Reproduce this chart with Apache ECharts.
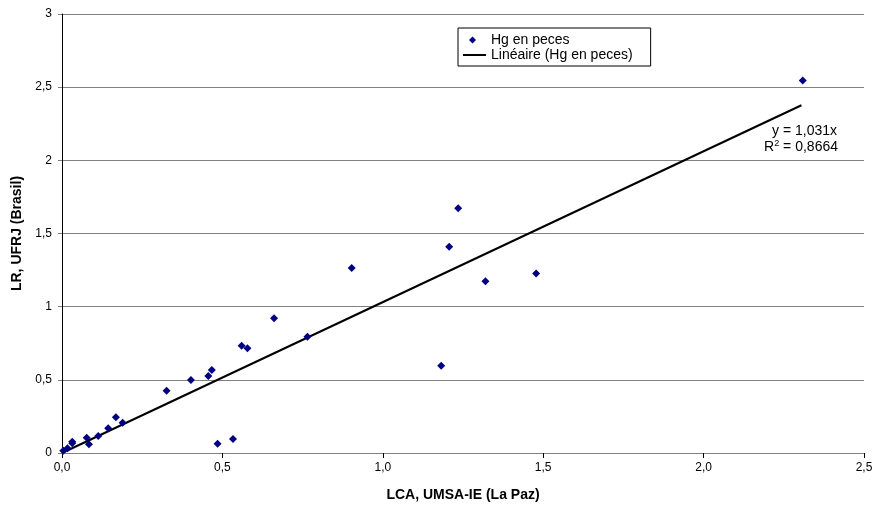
<!DOCTYPE html>
<html>
<head>
<meta charset="utf-8">
<script src="https://cdn.jsdelivr.net/npm/echarts@6/dist/echarts.min.js"></script>
<style>html,body{margin:0;padding:0;background:#fff}#c{width:875px;height:505px}</style>
</head>
<body>
<div id="c"></div>
<script>
var lcaValues = [0.004,0.017,0.032,0.032,0.077,0.084,0.113,0.144,0.168,0.189,0.326,0.402,0.456,0.467,0.485,0.533,0.560,0.578,0.661,0.765,0.903,1.182,1.207,1.235,1.320,1.478,2.309];
var lrValues  = [0.016,0.032,0.077,0.066,0.105,0.059,0.116,0.169,0.244,0.207,0.426,0.499,0.526,0.567,0.064,0.096,0.733,0.716,0.921,0.795,1.265,0.597,1.410,1.673,1.174,1.226,2.545];
var trendSlope = 1.031;
var trendR2 = '0,8664';
var xTicks = ['0,0','0,5','1,0','1,5','2,0','2,5'];
var yTicks = ['0','0,5','1','1,5','2','2,5','3'];
var seriesName = 'Hg en peces';
var trendName = 'Linéaire (Hg en peces)';

var points = lcaValues.map(function(x,i){return [x, lrValues[i]];});
var xMaxData = Math.max.apply(null, lcaValues) - 0.004;
var trendData = [[0,0],[xMaxData, trendSlope*xMaxData]];

var chart = echarts.init(document.getElementById('c'));
var font = 'Liberation Sans, Arial, sans-serif';
chart.setOption({
  animation:false,
  textStyle:{fontFamily:font},
  grid:{left:62,right:11,top:14,bottom:52,containLabel:false,outerBoundsMode:'none'},
  xAxis:{type:'value',min:0,max:2.5,interval:0.5,
    name:'LCA, UMSA-IE (La Paz)',nameLocation:'middle',nameGap:35,
    nameTextStyle:{fontWeight:'bold',fontSize:14,color:'#000',fontFamily:font},
    axisLine:{lineStyle:{color:'#808080',width:1}},
    axisTick:{show:true,inside:false,length:5,lineStyle:{color:'#000'}},
    axisLabel:{fontSize:12,color:'#000',margin:9,formatter:function(v){return xTicks[Math.round(v/0.5)];}},
    splitLine:{show:false}},
  yAxis:{type:'value',min:0,max:3,interval:0.5,
    name:'LR, UFRJ (Brasil)',nameLocation:'middle',nameGap:38,nameRotate:90,
    nameTextStyle:{fontWeight:'bold',fontSize:14,color:'#000',fontFamily:font},
    axisLine:{show:true,lineStyle:{color:'#000',width:1}},
    axisTick:{show:true,inside:false,length:4,lineStyle:{color:'#808080'}},
    axisLabel:{fontSize:12,color:'#000',margin:10,formatter:function(v){return yTicks[Math.round(v/0.5)];}},
    splitLine:{show:true,lineStyle:{color:'#808080',width:1}}},
  legend:{left:458,top:28,orient:'vertical',borderColor:'#000',borderWidth:1,
    padding:[5,18,4,5],itemGap:1,itemWidth:23,itemHeight:8,
    textStyle:{fontSize:14,lineHeight:12,color:'#000',fontFamily:font},
    data:[
      {name:seriesName,icon:'path://M0,0L0,0M23,8L23,8M9.5,0.5L13,4L9.5,7.5L6,4Z',itemStyle:{color:'#000080'}},
      {name:trendName,icon:'path://M0,0L0,0M23,8L23,8M0,3L23,3L23,5L0,5Z',itemStyle:{color:'#000'}}
    ]},
  series:[
    {name:seriesName,type:'scatter',symbol:'diamond',symbolSize:8,
     itemStyle:{color:'#000080',opacity:1},data:points,z:3},
    {name:trendName,type:'line',data:trendData,symbol:'none',showSymbol:false,
     lineStyle:{color:'#000',width:2},itemStyle:{color:'#000'},z:2}
  ],
  graphic:[
    {type:'text',right:38,top:124,style:{text:'y = '+trendSlope.toString().replace('.',',')+'x',font:'14px '+font,fill:'#000'}},
    {type:'text',right:37,top:139,style:{rich:{n:{fontSize:14,fontFamily:font},s:{fontSize:9,fontFamily:font,verticalAlign:'top',padding:[0,0,8,0]}},
      text:'{n|R}{s|2}{n| = '+trendR2+'}',fill:'#000'}}
  ]
});
</script>
</body>
</html>
